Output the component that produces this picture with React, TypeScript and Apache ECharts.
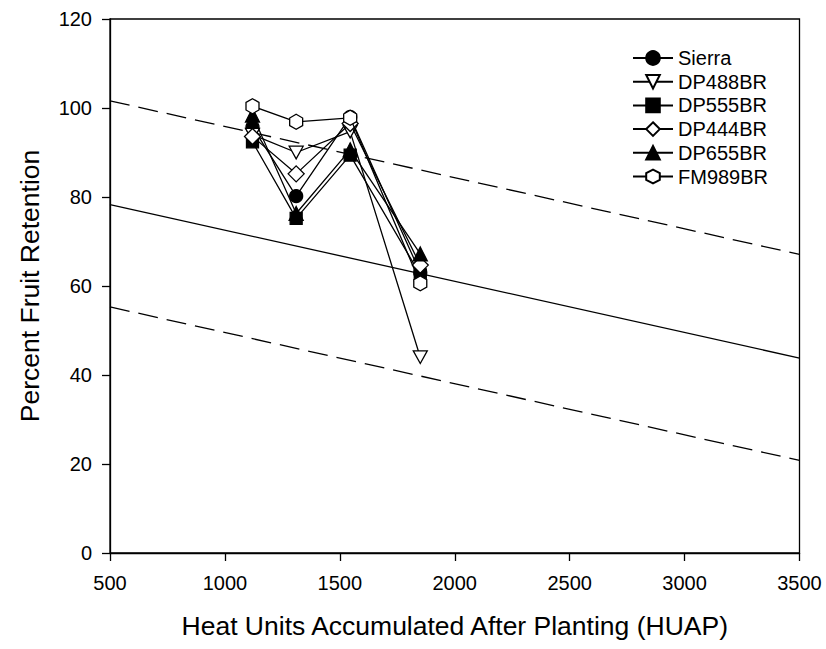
import React, { useEffect, useRef } from "react";
import * as echarts from "echarts";

const huap = [1120, 1310, 1545, 1850];
const seriesNames = ["Sierra", "DP488BR", "DP555BR", "DP444BR", "DP655BR", "FM989BR"];
const sierra = [95.7, 80.2, 98.0, 63.0];
const dp488br = [94.0, 90.0, 94.7, 44.0];
const dp555br = [92.4, 75.2, 89.4, 62.5];
const dp444br = [93.6, 85.2, 96.5, 64.7];
const dp655br = [98.4, 76.3, 90.6, 67.2];
const fm989br = [100.4, 96.9, 97.8, 60.6];
const lineX = [500, 3500];
const fitLine = [78.3, 43.8];
const upperLine = [101.6, 67.1];
const lowerLine = [55.3, 20.8];
const xTicks = [500, 1000, 1500, 2000, 2500, 3000, 3500];
const yTicks = [0, 20, 40, 60, 80, 100, 120];

const FONT = "'Liberation Sans', Arial, sans-serif";
const HEX = "path://M0,-1 L0.866,-0.5 L0.866,0.5 L0,1 L-0.866,0.5 L-0.866,-0.5 Z";
const INV_TRI = "path://M-1,-0.9 L1,-0.9 L0,0.9 Z";

export default function App() {
  const ref = useRef<HTMLDivElement>(null);
  useEffect(() => {
    if (!ref.current) return;
    const chart = echarts.init(ref.current, null, { renderer: "svg" });
    const pair = (ys: number[], xs: number[]) => xs.map((x, i) => [x, ys[i]]);
    const styles: Record<string, { symbol: string; size: number; fill: string }> = {
      Sierra: { symbol: "circle", size: 13, fill: "#000" },
      DP488BR: { symbol: INV_TRI, size: 14, fill: "#fff" },
      DP555BR: { symbol: "rect", size: 12, fill: "#000" },
      DP444BR: { symbol: "diamond", size: 16, fill: "#fff" },
      DP655BR: { symbol: "triangle", size: 14, fill: "#000" },
      FM989BR: { symbol: HEX, size: 15, fill: "#fff" },
    };
    const values = [sierra, dp488br, dp555br, dp444br, dp655br, fm989br];
    const refLine = (name: string, ys: number[], dashed: boolean) => ({
      name,
      type: "line",
      data: pair(ys, lineX),
      symbol: "none",
      silent: true,
      lineStyle: { color: "#000", width: 1.3, type: dashed ? [20, 9] : "solid" },
      z: 1,
    });
    const dataSeries = seriesNames.map((name, i) => ({
      name,
      type: "line",
      data: pair(values[i], huap),
      symbol: styles[name].symbol,
      symbolSize: styles[name].size,
      symbolKeepAspect: true,
      lineStyle: { color: "#000", width: 1.3 },
      itemStyle: { color: styles[name].fill, borderColor: "#000", borderWidth: 1.3 },
      z: 2 + i,
    }));
    chart.setOption({
      animation: false,
      backgroundColor: "#fff",
      textStyle: { fontFamily: FONT },
      grid: { left: 110, right: 26.5, top: 19, bottom: 96, show: true, borderColor: "#000", borderWidth: 1.3 },
      legend: {
        data: seriesNames,
        orient: "vertical",
        left: 632,
        top: 48,
        padding: 0,
        itemWidth: 40,
        itemHeight: 17,
        itemGap: 3.7,
        textStyle: { fontFamily: FONT, fontSize: 20, color: "#000" },
        selectedMode: false,
      },
      xAxis: {
        type: "value",
        min: xTicks[0],
        max: xTicks[xTicks.length - 1],
        interval: 500,
        name: "Heat Units Accumulated After Planting (HUAP)",
        nameLocation: "middle",
        nameGap: 59,
        nameTextStyle: { fontFamily: FONT, fontSize: 26.5, color: "#000" },
        axisLine: { lineStyle: { color: "#000", width: 1.3 } },
        axisTick: { inside: false, length: 8, lineStyle: { color: "#000", width: 1.3 } },
        axisLabel: { fontFamily: FONT, fontSize: 20, color: "#000", margin: 20, formatter: (v: number) => String(v) },
        splitLine: { show: false },
      },
      yAxis: {
        type: "value",
        min: yTicks[0],
        max: yTicks[yTicks.length - 1],
        interval: 20,
        name: "Percent Fruit Retention",
        nameLocation: "middle",
        nameGap: 67,
        nameTextStyle: { fontFamily: FONT, fontSize: 26.5, color: "#000" },
        axisLine: { lineStyle: { color: "#000", width: 1.3 } },
        axisTick: { inside: false, length: 8, lineStyle: { color: "#000", width: 1.3 } },
        axisLabel: { fontFamily: FONT, fontSize: 20, color: "#000", margin: 18, formatter: (v: number) => String(v) },
        splitLine: { show: false },
      },
      series: [
        refLine("fit", fitLine, false),
        refLine("upper", upperLine, true),
        refLine("lower", lowerLine, true),
        ...dataSeries,
      ],
    });
    return () => chart.dispose();
  }, []);
  return <div ref={ref} style={{ position: "fixed", left: 0, top: 0, width: 826, height: 649 }} />;
}
